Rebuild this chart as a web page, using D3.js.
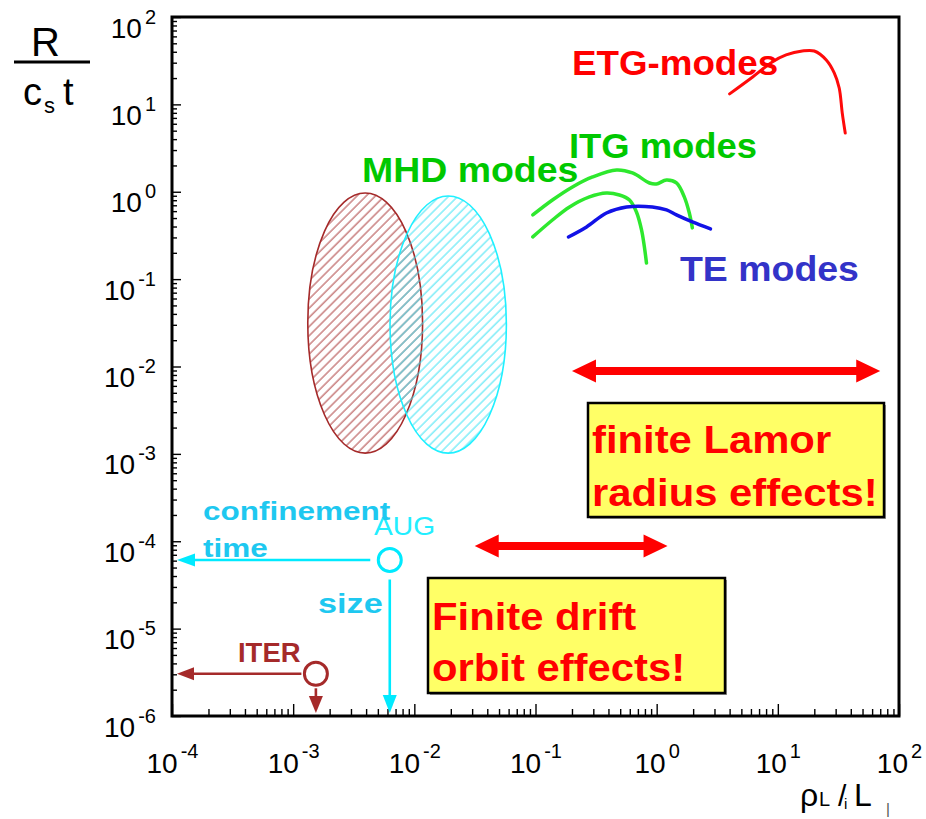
<!DOCTYPE html>
<html>
<head>
<meta charset="utf-8">
<script src="https://cdn.jsdelivr.net/npm/d3@7"></script>
<style>
  html, body { margin: 0; padding: 0; background: #fff; }
  svg { display: block; }
</style>
</head>
<body>
<script>
// ---------- data ----------
const xTickExponents = ["-4", "-3", "-2", "-1", "0", "1", "2"];
const yTickExponents = ["-6", "-5", "-4", "-3", "-2", "-1", "0", "1", "2"];

// ETG-mode growth rates
const etgX = [4.0, 6.2, 9.0, 11.7, 15.9, 20.0, 25.1, 29.2, 32.1, 34.0, 36.0];
const etgY = [13.2, 20.6, 30.6, 36.8, 40.8, 40.8, 32.2, 22.9, 15.4, 8.0, 4.7];

// ITG-mode growth rates (two cases)
const itgUpperX = [0.095, 0.138, 0.202, 0.296, 0.467, 0.631, 0.873, 0.995, 1.205, 1.456, 1.69, 1.86, 1.97];
const itgUpperY = [0.543, 0.805, 1.135, 1.476, 1.776, 1.64, 1.26, 1.23, 1.36, 1.26, 0.873, 0.571, 0.386];
const itgLowerX = [0.095, 0.138, 0.191, 0.279, 0.385, 0.493, 0.597, 0.681, 0.750, 0.792, 0.824];
const itgLowerY = [0.304, 0.475, 0.670, 0.873, 0.968, 0.918, 0.805, 0.587, 0.366, 0.233, 0.153];

// TE-mode growth rates
const teX = [0.187, 0.264, 0.385, 0.564, 0.922, 1.205, 1.456, 1.97, 2.78];
const teY = [0.304, 0.396, 0.571, 0.670, 0.670, 0.619, 0.543, 0.451, 0.375];

// MHD-mode regions (x extent, y extent)
const mhdBrownX = [0.00132, 0.0117];
const mhdBrownY = [0.00102, 0.968];
const mhdCyanX = [0.0063, 0.0575];
const mhdCyanY = [0.00102, 0.895];

// machines
const deviceNames = ["AUG", "ITER"];
const deviceX = [0.00627, 0.00154];
const deviceY = [6.1e-5, 3.04e-6];

// ranges of finite-size effects
const larmorRangeX = [0.2, 70];
const larmorY = 0.0089;
const driftRangeX = [0.0315, 1.23];
const driftY = 8.85e-5;

// ---------- layout ----------
const W = 926, H = 819;
const FONT = "'Liberation Sans', Arial, Helvetica, sans-serif";
const plot = { left: 172, right: 899, top: 17, bottom: 716 };

const svg = d3.select("body").append("svg")
  .attr("width", W).attr("height", H)
  .attr("viewBox", `0 0 ${W} ${H}`);

const x = d3.scaleLog().domain([1e-4, 1e2]).range([plot.left, plot.right]);
const y = d3.scaleLog().domain([1e-6, 1e2]).range([plot.bottom, plot.top]);

const defs = svg.append("defs");
function hatch(id, color, width) {
  const p = defs.append("pattern")
    .attr("id", id)
    .attr("patternUnits", "userSpaceOnUse")
    .attr("width", 6.5).attr("height", 6.5)
    .attr("patternTransform", "rotate(45)");
  p.append("line")
    .attr("x1", 1).attr("y1", 0).attr("x2", 1).attr("y2", 6.5)
    .attr("stroke", color).attr("stroke-width", width);
}
hatch("hatchBrown", "#b45050", 1.1);
hatch("hatchCyan", "#3fe4f4", 1.0);

function label(text, px, py, opt) {
  return svg.append("text")
    .attr("transform", `translate(${px},${py}) scale(${opt.sx || 1},1)`)
    .attr("font-family", FONT)
    .attr("font-size", opt.size)
    .attr("font-weight", opt.weight || "bold")
    .attr("fill", opt.fill)
    .text(text);
}

// ---------- axes ----------
const majorX = d3.range(-4, 3).map(e => Math.pow(10, e));
const majorY = d3.range(-6, 3).map(e => Math.pow(10, e));
function minors(lo, hi) {
  const out = [];
  for (let e = lo; e < hi; e++) for (let k = 2; k <= 9; k++) out.push(k * Math.pow(10, e));
  return out;
}

const axisG = svg.append("g").attr("font-family", FONT);

const xMinor = axisG.append("g").attr("transform", `translate(0,${plot.bottom})`)
  .call(d3.axisBottom(x).tickValues(minors(-4, 2)).tickSize(-7).tickFormat(""));
const xMajor = axisG.append("g").attr("transform", `translate(0,${plot.bottom})`)
  .call(d3.axisBottom(x).tickValues(majorX).tickSize(-12).tickFormat(""));
const yMinor = axisG.append("g").attr("transform", `translate(${plot.left},0)`)
  .call(d3.axisLeft(y).tickValues(minors(-6, 2)).tickSize(-5).tickFormat(""));
const yMajor = axisG.append("g").attr("transform", `translate(${plot.left},0)`)
  .call(d3.axisLeft(y).tickValues(majorY).tickSize(-9).tickFormat(""));

[xMinor, xMajor, yMinor, yMajor].forEach(g => {
  g.select(".domain").remove();
  g.selectAll(".tick line").attr("stroke", "#000").attr("stroke-width", 1.4);
});

// power-of-ten labels
xMajor.selectAll(".tick").each(function (d, i) {
  const t = d3.select(this).append("text")
    .attr("fill", "#000").attr("font-size", 28).attr("font-weight", "normal")
    .attr("text-anchor", "middle").attr("y", 57).attr("dy", 0);
  t.append("tspan").text("10");
  t.append("tspan").attr("font-size", 20).attr("dy", -15).attr("dx", 3).text(xTickExponents[i]);
});
yMajor.selectAll(".tick").each(function (d, i) {
  const t = d3.select(this).append("text")
    .attr("fill", "#000").attr("font-size", 28).attr("font-weight", "normal")
    .attr("text-anchor", "end").attr("x", -16).attr("y", 20).attr("dy", 0);
  t.append("tspan").text("10");
  t.append("tspan").attr("font-size", 20).attr("dy", -14).attr("dx", 3).text(yTickExponents[i]);
});

// frame
svg.append("rect")
  .attr("x", x(1e-4)).attr("y", y(1e2))
  .attr("width", x(1e2) - x(1e-4)).attr("height", y(1e-6) - y(1e2))
  .attr("fill", "none").attr("stroke", "#000").attr("stroke-width", 3);

// y-axis title  R / (c_s t)
label("R", 31, 56, { size: 40, weight: "normal", fill: "#000" });
svg.append("line").attr("x1", 14).attr("x2", 90).attr("y1", 62).attr("y2", 62)
  .attr("stroke", "#000").attr("stroke-width", 3);
{
  const t = svg.append("text").attr("x", 23).attr("y", 105)
    .attr("font-family", FONT).attr("font-size", 38).attr("fill", "#000");
  t.append("tspan").text("c");
  t.append("tspan").attr("font-size", 22).attr("dy", 8).attr("dx", 2).text("s");
  t.append("tspan").attr("dy", -8).attr("dx", 8).text("t");
}

// x-axis title  ρ_L / L
{
  const t = svg.append("text").attr("y", 806)
    .attr("font-family", FONT).attr("fill", "#000");
  t.append("tspan").attr("x", 800).attr("font-size", 32).text("ρ");
  t.append("tspan").attr("x", 819).attr("font-size", 20).text("L");
  t.append("tspan").attr("x", 838).attr("font-size", 30).text("/");
  t.append("tspan").attr("x", 844).attr("font-size", 15).attr("dy", 3).text("i");
  t.append("tspan").attr("x", 854).attr("font-size", 32).attr("dy", -3).text("L");
  t.append("tspan").attr("x", 886).attr("font-size", 15).attr("dy", 8).attr("fill", "#555").text("|");
}

// ---------- MHD regions ----------
function region(xs, ys, fillId, stroke) {
  const x0 = x(xs[0]), x1 = x(xs[1]), y0 = y(ys[0]), y1 = y(ys[1]);
  svg.append("ellipse")
    .attr("cx", (x0 + x1) / 2).attr("cy", (y0 + y1) / 2)
    .attr("rx", Math.abs(x1 - x0) / 2).attr("ry", Math.abs(y0 - y1) / 2)
    .attr("fill", `url(#${fillId})`)
    .attr("stroke", stroke).attr("stroke-width", 1.6);
}
region(mhdBrownX, mhdBrownY, "hatchBrown", "#a52a2a");
region(mhdCyanX, mhdCyanY, "hatchCyan", "#1ff0ff");

// ---------- growth-rate curves ----------
const line = d3.line().x(d => x(d[0])).y(d => y(d[1])).curve(d3.curveCatmullRom.alpha(0.5));
function curve(xs, ys, color, w) {
  svg.append("path")
    .datum(xs.map((v, i) => [v, ys[i]]))
    .attr("d", line)
    .attr("fill", "none").attr("stroke", color)
    .attr("stroke-width", w).attr("stroke-linecap", "round").attr("stroke-linejoin", "round");
}
curve(etgX, etgY, "#ff0a0a", 3);
curve(itgUpperX, itgUpperY, "#2ee82e", 3.5);
curve(itgLowerX, itgLowerY, "#2ee82e", 3.5);
curve(teX, teY, "#1212e6", 3.5);

// ---------- mode labels ----------
label("ETG-modes", 572, 75, { size: 35, fill: "#ff0000", sx: 1.05 });
label("ITG modes", 569, 158, { size: 35, fill: "#00c800", sx: 1.04 });
label("MHD modes", 362, 182, { size: 35, fill: "#00c800", sx: 1.07 });
label("TE modes", 680, 281, { size: 35, fill: "#3333c8", sx: 1.07 });

// ---------- double arrows ----------
function doubleArrow(xs, yv) {
  const x0 = x(xs[0]), x1 = x(xs[1]), yc = y(yv);
  const L = 24, hh = 11.5, t = 4;
  const pts = [
    [x0, yc], [x0 + L, yc - hh], [x0 + L, yc - t], [x1 - L, yc - t], [x1 - L, yc - hh],
    [x1, yc], [x1 - L, yc + hh], [x1 - L, yc + t], [x0 + L, yc + t], [x0 + L, yc + hh]
  ];
  svg.append("path").attr("d", "M" + pts.map(p => p.join(",")).join("L") + "Z")
    .attr("fill", "#ff0000");
}
doubleArrow(larmorRangeX, larmorY);
doubleArrow(driftRangeX, driftY);

// ---------- effect boxes ----------
function box(bx, by, bw, bh, lines, baseY, lineGap) {
  svg.append("rect").attr("x", bx + 2).attr("y", by + 2).attr("width", bw).attr("height", bh)
    .attr("fill", "#9a9a9a");
  svg.append("rect").attr("x", bx).attr("y", by).attr("width", bw).attr("height", bh)
    .attr("fill", "#ffff66").attr("stroke", "#000").attr("stroke-width", 2.5);
  lines.forEach((s, i) => label(s, bx + 4, baseY + i * lineGap, { size: 38, fill: "#ff0000", sx: 1.1 }));
}
box(588, 403, 296, 114, ["finite Lamor", "radius effects!"], 453, 53);
box(428, 578, 297, 115, ["Finite drift", "orbit effects!"], 630, 51);

// ---------- machines ----------
const devColor = ["#00eaff", "#a52a2a"];
const headLen = [18, 17];
deviceNames.forEach((name, i) => {
  const cx = x(deviceX[i]), cy = y(deviceY[i]);
  const r = 11.5, c = devColor[i], L = headLen[i];
  const gap = i === 0 ? 8 : 3;
  // towards the confinement-time axis
  const xTip = x(1e-4) + 5;
  svg.append("line").attr("x1", cx - r - gap).attr("x2", xTip + L - 2).attr("y1", cy).attr("y2", cy)
    .attr("stroke", c).attr("stroke-width", 2.6);
  svg.append("path").attr("d", `M${xTip},${cy}L${xTip + L},${cy - 6.5}L${xTip + L},${cy + 6.5}Z`).attr("fill", c);
  // towards the size axis
  const yTip = y(1e-6) - 3;
  svg.append("line").attr("x1", cx).attr("x2", cx).attr("y1", cy + r + gap).attr("y2", yTip - L + 2)
    .attr("stroke", c).attr("stroke-width", 2.6);
  svg.append("path").attr("d", `M${cx},${yTip}L${cx - 7},${yTip - L}L${cx + 7},${yTip - L}Z`).attr("fill", c);
  // marker
  svg.append("circle").attr("cx", cx).attr("cy", cy).attr("r", r)
    .attr("fill", "none").attr("stroke", c).attr("stroke-width", 3);
});

label("AUG", 374, 535, { size: 25, weight: "normal", fill: "#22eeff", sx: 1.13 });
label("confinement", 203, 520, { size: 25, fill: "#1ec8f0", sx: 1.26 });
label("time", 203, 557, { size: 25, fill: "#1ec8f0", sx: 1.26 });
label("size", 318, 613, { size: 27, fill: "#1ec8f0", sx: 1.27 });
label("ITER", 238, 662, { size: 28, fill: "#a52a2a", sx: 0.98 });
</script>
</body>
</html>
